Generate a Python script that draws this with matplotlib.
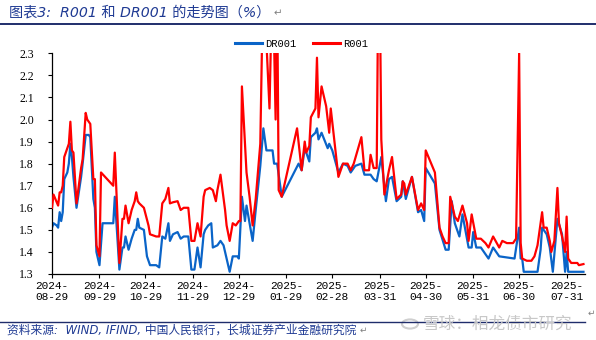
import matplotlib
matplotlib.use("Agg")
import matplotlib.pyplot as plt
import pandas as pd
from matplotlib.lines import Line2D
from matplotlib.patches import Circle

plt.rcParams['font.family'] = ['Noto Sans CJK SC', 'DejaVu Sans']

# ---------------- data ----------------
dr_dates = ["2024-08-29","2024-08-30","2024-09-01","2024-09-02","2024-09-03","2024-09-04","2024-09-05","2024-09-06",
            "2024-09-08","2024-09-09","2024-09-10","2024-09-11","2024-09-12","2024-09-14","2024-09-17","2024-09-18",
            "2024-09-20","2024-09-22","2024-09-23","2024-09-25","2024-09-26","2024-09-27","2024-09-29","2024-10-01",
            "2024-10-08","2024-10-09","2024-10-11","2024-10-12","2024-10-14","2024-10-15","2024-10-16","2024-10-18",
            "2024-10-20","2024-10-22","2024-10-23","2024-10-24","2024-10-25","2024-10-28","2024-10-30","2024-11-01",
            "2024-11-05","2024-11-07","2024-11-09","2024-11-11","2024-11-13","2024-11-14","2024-11-16","2024-11-19",
            "2024-11-21","2024-11-23","2024-11-26","2024-11-28","2024-11-30","2024-12-02","2024-12-04","2024-12-06",
            "2024-12-07","2024-12-09","2024-12-11","2024-12-12","2024-12-15","2024-12-17","2024-12-19","2024-12-21",
            "2024-12-23","2024-12-25","2024-12-28","2024-12-29","2024-12-31","2025-01-02","2025-01-03","2025-01-07",
            "2025-01-09","2025-01-12","2025-01-14","2025-01-16","2025-01-20","2025-01-21","2025-01-23","2025-01-26",
            "2025-02-06","2025-02-08","2025-02-10","2025-02-13","2025-02-14","2025-02-17","2025-02-18","2025-02-19",
            "2025-02-21","2025-02-25","2025-02-26","2025-02-28","2025-03-04","2025-03-07","2025-03-10","2025-03-12",
            "2025-03-15","2025-03-19","2025-03-21","2025-03-25","2025-03-27","2025-03-29","2025-04-01","2025-04-04",
            "2025-04-06","2025-04-08","2025-04-11","2025-04-14","2025-04-15","2025-04-17","2025-04-21","2025-04-25",
            "2025-04-27","2025-04-29","2025-04-30","2025-05-06","2025-05-09","2025-05-13","2025-05-15","2025-05-17",
            "2025-05-19","2025-05-22","2025-05-24","2025-05-28","2025-05-30","2025-05-31","2025-06-02","2025-06-05",
            "2025-06-08","2025-06-10","2025-06-13","2025-06-17","2025-06-27","2025-06-30","2025-07-01","2025-07-02",
            "2025-07-03","2025-07-12","2025-07-14","2025-07-15","2025-07-18","2025-07-20","2025-07-22","2025-07-25",
            "2025-07-28","2025-07-30","2025-07-31","2025-08-01","2025-08-11"]
dr001 = [1.51,1.53,1.52,1.51,1.58,1.54,1.58,1.73,
         1.76,1.80,1.89,1.83,1.74,1.60,1.74,1.80,
         1.93,1.93,1.92,1.64,1.60,1.40,1.34,1.53,
         1.53,1.65,1.43,1.32,1.42,1.42,1.47,1.41,
         1.46,1.50,1.50,1.55,1.51,1.50,1.38,1.34,
         1.34,1.33,1.47,1.46,1.53,1.45,1.48,1.49,
         1.46,1.47,1.47,1.32,1.32,1.42,1.33,1.48,
         1.50,1.52,1.53,1.42,1.43,1.45,1.43,1.37,
         1.31,1.38,1.38,1.37,1.65,1.54,1.61,1.45,
         1.59,1.79,1.96,1.86,1.86,1.80,1.80,1.65,
         1.80,1.77,1.87,1.81,1.92,1.94,1.96,1.91,
         1.94,1.87,1.89,1.86,1.76,1.80,1.79,1.76,
         1.79,1.80,1.75,1.75,1.73,1.72,1.83,1.63,
         1.73,1.74,1.63,1.65,1.72,1.64,1.74,1.58,
         1.59,1.54,1.78,1.71,1.50,1.41,1.41,1.63,
         1.53,1.47,1.57,1.42,1.42,1.49,1.42,1.42,
         1.39,1.37,1.42,1.38,1.37,1.51,1.37,1.37,
         1.31,1.31,1.41,1.51,1.48,1.42,1.31,1.55,
         1.48,1.31,1.40,1.31,1.31]

r_dates = ["2024-08-29","2024-08-30","2024-09-02","2024-09-03","2024-09-04","2024-09-05","2024-09-06","2024-09-09",
           "2024-09-10","2024-09-11","2024-09-12","2024-09-14","2024-09-17","2024-09-18","2024-09-20","2024-09-21",
           "2024-09-23","2024-09-25","2024-09-26","2024-09-27","2024-09-29","2024-09-30","2024-10-08","2024-10-09",
           "2024-10-12","2024-10-14","2024-10-15","2024-10-16","2024-10-18","2024-10-20","2024-10-22","2024-10-23",
           "2024-10-24","2024-10-25","2024-10-28","2024-10-31","2024-11-01","2024-11-05","2024-11-07","2024-11-09",
           "2024-11-11","2024-11-13","2024-11-14","2024-11-16","2024-11-19","2024-11-21","2024-11-23","2024-11-26",
           "2024-11-28","2024-11-30","2024-12-02","2024-12-04","2024-12-06","2024-12-07","2024-12-10","2024-12-12",
           "2024-12-14","2024-12-15","2024-12-17","2024-12-20","2024-12-21","2024-12-23","2024-12-25","2024-12-27",
           "2024-12-29","2024-12-30","2024-12-31","2025-01-03","2025-01-05","2025-01-07","2025-01-09","2025-01-12",
           "2025-01-14","2025-01-15","2025-01-18","2025-01-20","2025-01-22","2025-01-23","2025-01-24","2025-01-26",
           "2025-02-05","2025-02-08","2025-02-10","2025-02-11","2025-02-13","2025-02-14","2025-02-17","2025-02-18",
           "2025-02-19","2025-02-21","2025-02-24","2025-02-26","2025-02-27","2025-03-04","2025-03-07","2025-03-10",
           "2025-03-12","2025-03-14","2025-03-19","2025-03-21","2025-03-24","2025-03-25","2025-03-27","2025-03-29",
           "2025-03-30","2025-03-31","2025-04-01","2025-04-03","2025-04-06","2025-04-08","2025-04-11","2025-04-14",
           "2025-04-15","2025-04-16","2025-04-17","2025-04-21","2025-04-25","2025-04-27","2025-04-29","2025-04-30",
           "2025-05-06","2025-05-09","2025-05-11","2025-05-13","2025-05-15","2025-05-16","2025-05-19","2025-05-21",
           "2025-05-24","2025-05-27","2025-05-28","2025-05-30","2025-06-02","2025-06-05","2025-06-08","2025-06-10",
           "2025-06-13","2025-06-17","2025-06-19","2025-06-22","2025-06-25","2025-06-26","2025-06-28","2025-06-30",
           "2025-07-01","2025-07-02","2025-07-05","2025-07-08","2025-07-10","2025-07-12","2025-07-15","2025-07-16",
           "2025-07-18","2025-07-20","2025-07-21","2025-07-23","2025-07-25","2025-07-26","2025-07-28","2025-07-30",
           "2025-07-31","2025-08-01","2025-08-03","2025-08-05","2025-08-07","2025-08-08","2025-08-11"]
r001 = [1.60,1.66,1.61,1.67,1.67,1.70,1.83,1.89,
        1.99,1.86,1.85,1.62,1.78,1.82,2.03,2.00,
        1.98,1.73,1.73,1.43,1.38,1.76,1.70,1.85,
        1.35,1.55,1.55,1.61,1.53,1.59,1.63,1.67,
        1.63,1.62,1.60,1.52,1.48,1.47,1.47,1.62,
        1.64,1.69,1.62,1.625,1.63,1.59,1.60,1.60,
        1.45,1.45,1.53,1.47,1.65,1.68,1.69,1.68,
        1.63,1.68,1.75,1.59,1.52,1.45,1.53,1.52,
        1.54,1.54,2.15,1.76,1.65,1.52,1.64,1.89,
        2.70,2.50,2.05,2.70,2.00,2.60,1.68,1.65,
        1.96,1.77,1.90,1.85,1.88,2.01,2.05,2.28,
        2.01,2.15,2.06,1.94,2.05,1.74,1.80,1.80,
        1.77,1.80,1.92,1.77,1.77,1.84,1.78,1.78,
        2.60,2.60,1.91,1.66,1.77,1.83,1.64,1.66,
        1.72,1.71,1.66,1.74,1.59,1.62,1.59,1.86,
        1.76,1.51,1.47,1.44,1.44,1.65,1.56,1.54,
        1.61,1.53,1.45,1.57,1.46,1.46,1.44,1.42,
        1.47,1.42,1.45,1.44,1.44,1.44,1.46,2.30,
        1.44,1.37,1.36,1.36,1.38,1.43,1.58,1.51,
        1.51,1.45,1.40,1.45,1.69,1.53,1.47,1.40,
        1.56,1.37,1.35,1.35,1.35,1.34,1.345]

tick_dates = ["2024-08-29","2024-09-29","2024-10-29","2024-11-29","2024-12-29","2025-01-29",
              "2025-02-28","2025-03-31","2025-04-30","2025-05-31","2025-06-30","2025-07-31"]
y_ticks = [1.3,1.4,1.5,1.6,1.7,1.8,1.9,2.0,2.1,2.2,2.3]
series_names = ['DR001', 'R001']

# ---------------- figure ----------------
W, H = 596, 340
fig = plt.figure(figsize=(W/100, H/100), dpi=100)
ax = fig.add_axes([52/W, 1-274/H, (585-52)/W, (274-53.3)/H])

BLUE = '#0A64C8'
RED = '#FF0000'
ax.plot(pd.to_datetime(dr_dates), dr001, color=BLUE, lw=1.6, zorder=2)
ax.plot(pd.to_datetime(r_dates), r001, color=RED, lw=1.6, zorder=3)

ax.set_ylim(1.3, 2.3)
ax.set_xlim(pd.Timestamp("2024-08-29"), pd.Timestamp("2025-08-12"))
ax.set_yticks(y_ticks)
ax.set_yticklabels([f"{v:.1f}" for v in y_ticks], fontfamily='Liberation Serif', fontsize=8.5)
ticks = pd.to_datetime(tick_dates)
ax.set_xticks(ticks)
ax.set_xticklabels([d.strftime("%Y-\n%m-%d") for d in ticks], fontfamily='Liberation Mono',
                   fontsize=8, linespacing=1.15)
ax.tick_params(axis='both', direction='out', length=3, width=0.8, colors='black', pad=2)
ax.tick_params(axis='y', pad=10)
for s in ['top', 'right']:
    ax.spines[s].set_visible(False)
for s in ['left', 'bottom']:
    ax.spines[s].set_linewidth(0.9)

handles = [Line2D([], [], color=BLUE, lw=2.2), Line2D([], [], color=RED, lw=2.2)]
ax.legend(handles, series_names, ncol=2, loc='center', bbox_to_anchor=(0.468, 1.043),
          frameon=False, prop={'family': 'Liberation Mono', 'size': 7.5},
          handlelength=2.6, handletextpad=0.3, columnspacing=1.6, borderaxespad=0)

# title and rules
NAVY = '#1F3A93'
renderer = fig.canvas.get_renderer()
title = fig.text(9/W, 1-13/H, "图表3:  R001 和 DR001 的走势图（%）", fontsize=10.2, color=NAVY,
                 style='italic', va='center', ha='left', family=['DejaVu Sans', 'Noto Sans CJK SC'])
tb = title.get_window_extent(renderer)
fig.text((tb.x1 + 3)/W, 1-13/H, "↵", fontsize=7.5, color='#808080', va='center', ha='left',
         family=['DejaVu Sans'])
fig.add_artist(Line2D([0, 1], [1-23.5/H, 1-23.5/H], color='#1F2D6B', lw=1.4, transform=fig.transFigure))
fig.add_artist(Line2D([0, 585/W], [1-321.5/H, 1-321.5/H], color='#1F2D6B', lw=1.0, transform=fig.transFigure))

src = fig.text(7/W, 1-330/H, "资料来源:  WIND, IFIND, 中国人民银行，长城证券产业金融研究院", fontsize=8.5,
               color=NAVY, style='italic', va='center', ha='left', family=['DejaVu Sans', 'Noto Sans CJK SC'])
sb = src.get_window_extent(renderer)
fig.text((sb.x1 + 3)/W, 1-330/H, "↵", fontsize=6.5, color='#808080', va='center', ha='left',
         family=['DejaVu Sans'])

# watermark
fig.add_artist(Circle((410/W, 1-324/H), 8/W, transform=fig.transFigure, fill=False,
                      edgecolor='#CFCFCF', lw=1.5))
fig.text(423/W, 1-324/H, "雪球：相龙债市研究", fontsize=12, color='#C8C8C8', va='center', ha='left',
         family=['Noto Sans CJK SC', 'DejaVu Sans'])
fig.text(588/W, 1-313/H, "↵", fontsize=6.5, color='#808080', va='center', ha='left', family=['DejaVu Sans'])

fig.savefig("out.png", dpi=100)
